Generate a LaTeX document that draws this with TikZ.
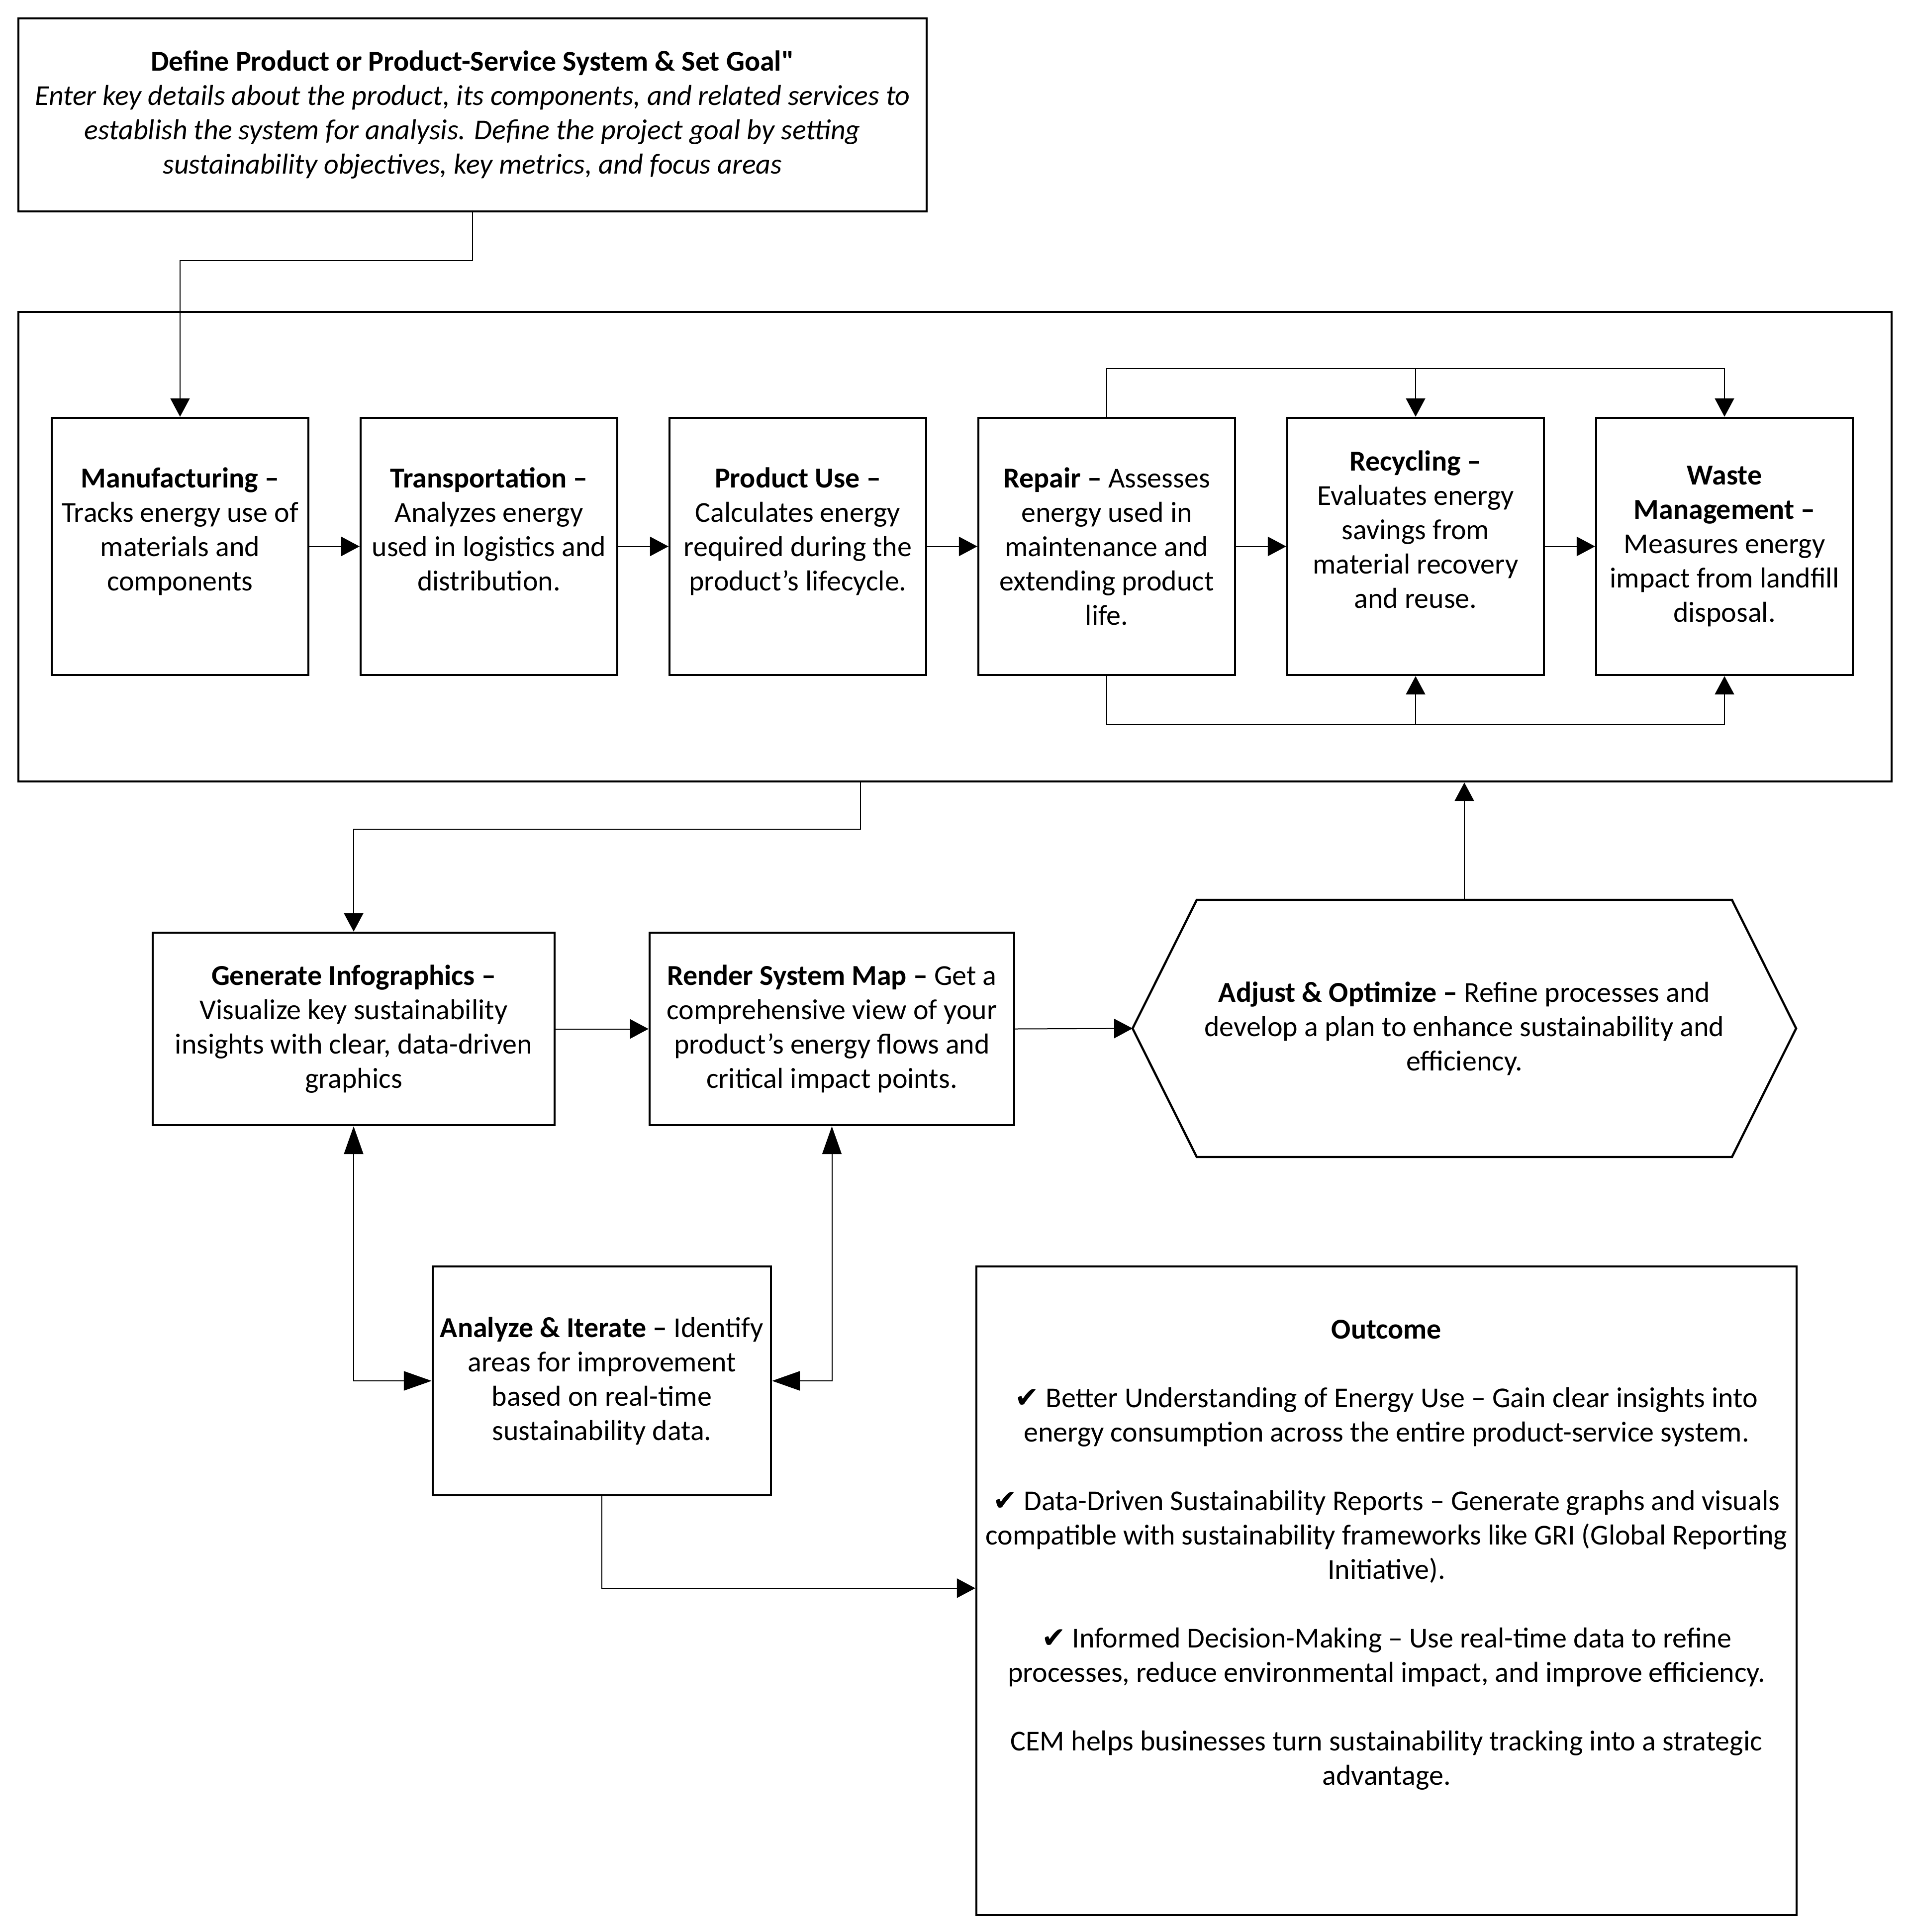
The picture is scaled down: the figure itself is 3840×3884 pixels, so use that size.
\documentclass[tikz,border=0pt]{standalone}
\usepackage{fontspec}
\setmainfont{Carlito}
\newfontfamily\plaincarlito{Carlito}
\newfontfamily\symfont{DejaVu Sans}
\usetikzlibrary{arrows.meta,calc}
\tikzset{
  bodyfont/.style={font=\fontsize{14.5pt}{17.25pt}\selectfont},
  box/.style={draw, line width=1.1pt, align=center, inner sep=0pt, bodyfont},
  stepbox/.style={box, minimum width=129pt, minimum height=129.25pt},
  conn/.style={line width=0.5pt, -{Triangle[length=9.25pt,width=9.75pt]}},
  dconn/.style={line width=0.5pt, {Triangle[length=14pt,width=9.75pt]}-{Triangle[length=14pt,width=9.75pt]}},
}
\newcommand{\chk}{{\symfont ✔}}
\begin{document}
\begin{tikzpicture}[x=0.25pt, y=-0.25pt]
\useasboundingbox (0,0) rectangle (3840,3884);

% top box
\node[box, minimum width=456.5pt, minimum height=97pt] (top) at (950,231)
 {\textbf{Define Product or Product-Service System \& Set Goal{\plaincarlito "}}\\
  \textit{Enter key details about the product, its components, and related services to}\\
  \textit{establish the system for analysis. Define the project goal by setting}\\
  \textit{sustainability objectives, key metrics, and focus areas}};

% frame
\node[draw, line width=1.1pt, minimum width=941.5pt, minimum height=236pt, inner sep=0pt] (frame) at (1920,1099) {};

% lifecycle steps
\node[stepbox] (m1) at (362,1098.5)
 {\textbf{Manufacturing –}\\Tracks energy use of\\materials and\\components\\\mbox{}};
\node[stepbox] (m2) at (983,1098.5)
 {\textbf{Transportation –}\\Analyzes energy\\used in logistics and\\distribution.\\\mbox{}};
\node[stepbox] (m3) at (1604,1098.5)
 {\textbf{Product Use –}\\Calculates energy\\required during the\\product’s lifecycle.\\\mbox{}};
\node[stepbox] (m4) at (2225,1098.5)
 {\textbf{Repair –} Assesses\\energy used in\\maintenance and\\extending product\\life.};
\node[stepbox] (m5) at (2846,1098.5)
 {\textbf{Recycling –}\\Evaluates energy\\savings from\\material recovery\\and reuse.\\\mbox{}};
\node[stepbox] (m6) at (3467,1098.5)
 {\textbf{Waste}\\\textbf{Management –}\\Measures energy\\impact from landfill\\disposal.};

% lower boxes
\node[box, minimum width=202pt, minimum height=96.75pt] (gi) at (711,2068.5)
 {\textbf{Generate Infographics –}\\Visualize key sustainability\\insights with clear, data-driven\\graphics};
\node[box, minimum width=183.25pt, minimum height=96.75pt] (rsm) at (1672.5,2068.5)
 {\textbf{Render System Map –} Get a\\comprehensive view of your\\product’s energy flows and\\critical impact points.};
\node[align=center, inner sep=0pt, outer sep=0pt, bodyfont, minimum width=333.5pt, minimum height=129.25pt] (hex) at (2944,2067.5)
 {\textbf{Adjust \& Optimize –} Refine processes and\\develop a plan to enhance sustainability and\\efficiency.};
\draw[line width=1.1pt, line join=miter]
  (hex.west) -- ($(hex.north west)+(129,0)$) -- ($(hex.north east)+(-129,0)$)
  -- (hex.east) -- ($(hex.south east)+(-129,0)$) -- ($(hex.south west)+(129,0)$) -- cycle;
\node[box, minimum width=170pt, minimum height=115pt] (an) at (1210,2776)
 {\textbf{Analyze \& Iterate –} Identify\\areas for improvement\\based on real-time\\sustainability data.};
\node[box, minimum width=412.25pt, minimum height=326pt] (out) at (2787.5,3198) {};
\node[align=center, inner sep=0pt, bodyfont] (outtxt) at (2787.5,3126)
 {\textbf{Outcome}\\[17.25pt]
  \chk{} Better Understanding of Energy Use – Gain clear insights into\\
  energy consumption across the entire product-service system.\\[17.25pt]
  \chk{} Data-Driven Sustainability Reports – Generate graphs and visuals\\
  compatible with sustainability frameworks like GRI (Global Reporting\\
  Initiative).\\[17.25pt]
  \chk{} Informed Decision-Making – Use real-time data to refine\\
  processes, reduce environmental impact, and improve efficiency.\\[17.25pt]
  CEM helps businesses turn sustainability tracking into a strategic\\
  advantage.};

% connectors
\draw[conn] (top.south) -- ++(0,97) -| (m1.north);
\draw[conn] (m1.east) -- (m2.west);
\draw[conn] (m2.east) -- (m3.west);
\draw[conn] (m3.east) -- (m4.west);
\draw[conn] (m4.east) -- (m5.west);
\draw[conn] (m5.east) -- (m6.west);
\coordinate (tl) at ($(m4.north)+(0,-97)$);
\coordinate (bl) at ($(m4.south)+(0,97)$);
\draw[conn] (m4.north) -- (tl) -| (m6.north);
\draw[conn] (m5.north |- tl) -- (m5.north);
\draw[conn] (m4.south) -- (bl) -| (m6.south);
\draw[conn] (m5.south |- bl) -- (m5.south);
\coordinate (fo) at ($(frame.south west)+(1695,0)$);
\draw[conn] (fo) -- ++(0,94) -| (gi.north);
\draw[conn] (gi.east) -- (rsm.west);
\draw[conn] (rsm.east) -- (hex.west);
\draw[conn] (hex.north) -- (hex.north |- frame.south);
\draw[dconn] (gi.south) |- (an.west);
\draw[dconn] (rsm.south) |- (an.east);
\draw[conn] (an.south) |- ($(out.north west)+(0,649)$);
\end{tikzpicture}
\end{document}
